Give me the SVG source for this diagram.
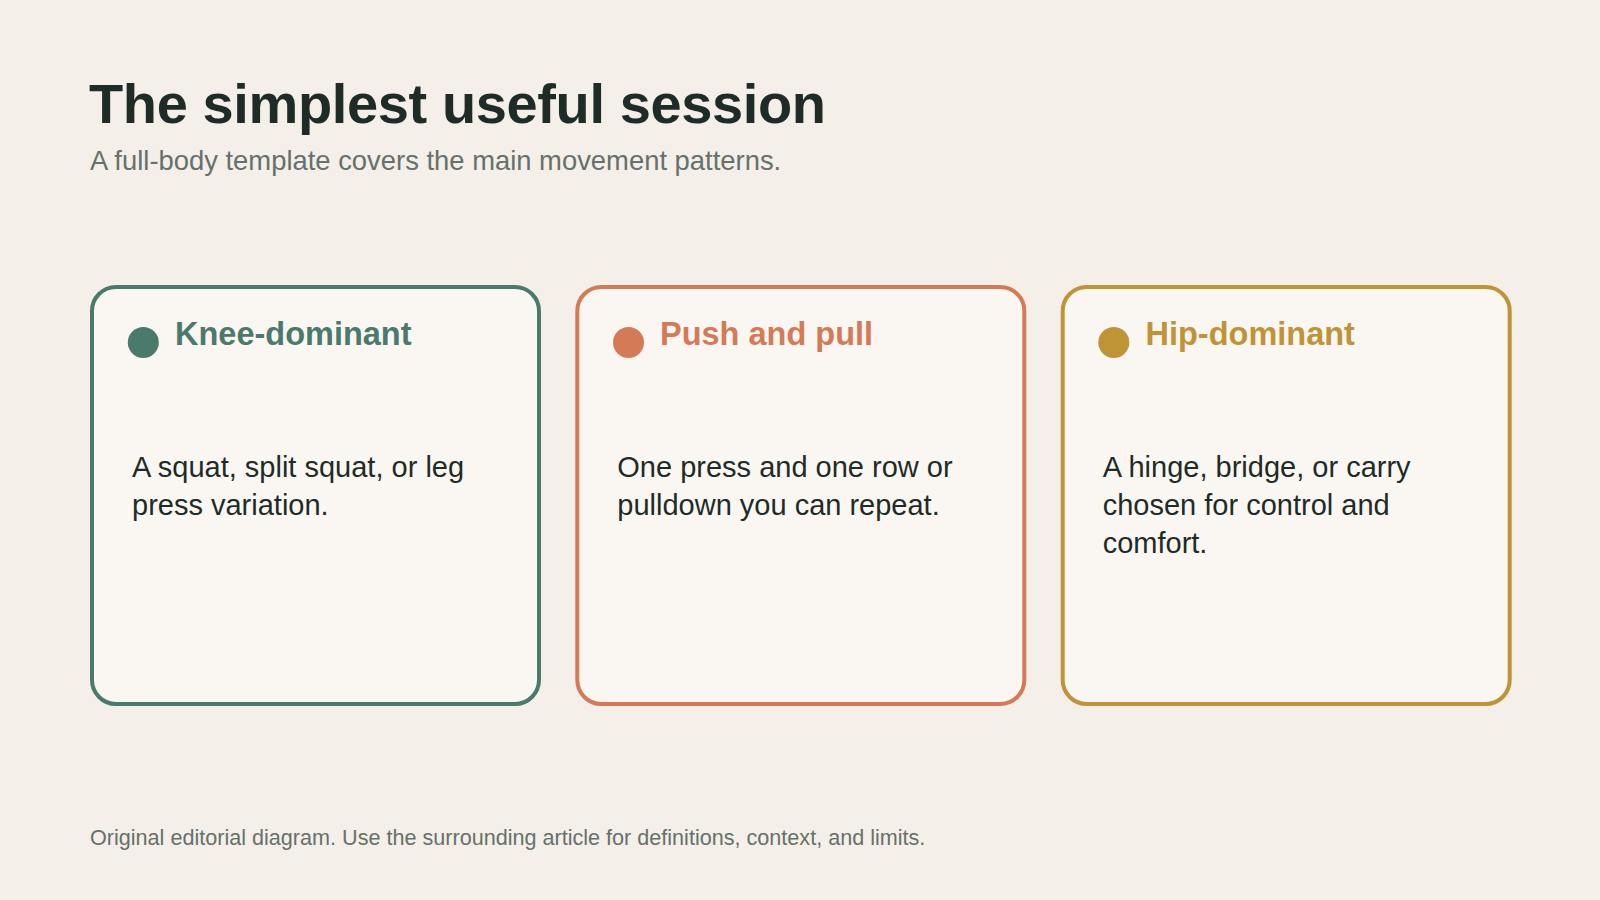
<svg xmlns="http://www.w3.org/2000/svg" width="1600" height="900" viewBox="0 0 1600 900">
  <style>
    .bg { fill: #f4efe9; }
    .card { fill: #faf7f3; stroke-width: 4; }
    .title { font-family: "Liberation Sans", Arial, sans-serif; font-weight: 700; font-size: 56px; fill: #1f2b27; letter-spacing: -0.38px; }
    .subtitle { font-family: "Liberation Sans", Arial, sans-serif; font-size: 27.4px; fill: #66716b; }
    .ctitle { font-family: "Liberation Sans", Arial, sans-serif; font-weight: 700; font-size: 32.5px; }
    .body { font-family: "Liberation Sans", Arial, sans-serif; font-size: 29px; fill: #1f2b27; }
    .footer { font-family: "Liberation Sans", Arial, sans-serif; font-size: 21.6px; fill: #66716b; }
    .green { stroke: #4a7a6c; }
    .orange { stroke: #d57a57; }
    .gold { stroke: #bf9436; }
  </style>
  <rect class="bg" x="0" y="0" width="1600" height="900"/>
  <g id="header">
    <text class="title" x="89" y="123">The simplest useful session</text>
    <text class="subtitle" x="90" y="169.5">A full-body template covers the main movement patterns.</text>
  </g>
  <g id="connectors"></g>
  <g id="card-knee">
    <rect class="card green" x="92" y="287" width="447" height="417" rx="24"/>
    <circle cx="143.3" cy="342.5" r="15.5" fill="#4a7a6c"/>
    <text class="ctitle" x="175" y="345" fill="#4a7a6c">Knee-dominant</text>
    <text class="body" x="132" y="476.5">A squat, split squat, or leg</text>
    <text class="body" x="132" y="514.5">press variation.</text>
  </g>
  <g id="card-push">
    <rect class="card orange" x="577.3" y="287" width="447" height="417" rx="24"/>
    <circle cx="628.5" cy="342.5" r="15.5" fill="#d57a57"/>
    <text class="ctitle" x="660" y="345" fill="#d57a57">Push and pull</text>
    <text class="body" x="617.3" y="476.5">One press and one row or</text>
    <text class="body" x="617.3" y="514.5">pulldown you can repeat.</text>
  </g>
  <g id="card-hip">
    <rect class="card gold" x="1062.7" y="287" width="447" height="417" rx="24"/>
    <circle cx="1113.8" cy="342.5" r="15.5" fill="#bf9436"/>
    <text class="ctitle" x="1145.5" y="345" fill="#bf9436">Hip-dominant</text>
    <text class="body" x="1102.7" y="476.5">A hinge, bridge, or carry</text>
    <text class="body" x="1102.7" y="514.5">chosen for control and</text>
    <text class="body" x="1102.7" y="552.5">comfort.</text>
  </g>
  <g id="footer">
    <text class="footer" x="90" y="845">Original editorial diagram. Use the surrounding article for definitions, context, and limits.</text>
  </g>
</svg>
